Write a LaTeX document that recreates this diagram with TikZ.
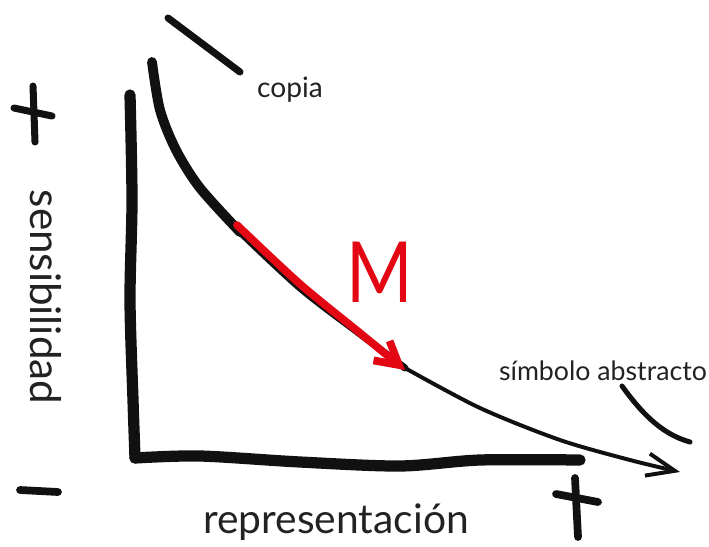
\documentclass[tikz,border=0pt]{standalone}
\usepackage{fontspec}
\setmainfont{Lato}
\usetikzlibrary{arrows.meta}

\definecolor{brush}{HTML}{111111}
\definecolor{marker}{HTML}{E30613}
\definecolor{ink}{HTML}{222222}

\tikzset{
  brush/.style={draw=brush, line cap=round, line join=round},
  label/.style={text=ink, inner sep=0pt},
}

\begin{document}
\begin{tikzpicture}[x=0.025cm, y=-0.025cm]
        \useasboundingbox (0,0) rectangle (709,546);
        % ejes
        \draw[brush, line width=8pt] plot[smooth] coordinates {(130,95) (132,200) (130,300) (133,400) (135,458)};
        \draw[brush, line width=8pt] plot[smooth] coordinates {(135,458) (200,456) (300,462) (400,466) (480,460) (580,460)};
        % curva
        \draw[brush, line width=7pt] plot[smooth] coordinates {(152,62) (160,110) (176,150) (200,188) (240,232)};
        \draw[brush, line width=5pt] plot[smooth] coordinates {(240,232) (300,288) (360,334) (405,368)};
        \draw[brush, line width=2.8pt, -{Straight Barb[length=20pt, width=16pt]}] plot[smooth] coordinates {(405,368) (480,408) (560,440) (630,460) (680,472)};
        % flecha M
        \draw[draw=marker, line width=5.5pt, line cap=round, -{Straight Barb[length=16pt, width=18pt]}] plot[smooth] coordinates {(237,225) (300,284) (360,333) (405,370)};
        \node[text=marker, font=\fontsize{60}{60}\selectfont, xscale=0.85] (M) at (380,272) {M};
        % trazos sueltos
        \draw[brush, line width=5pt] (168,18) -- (240,72);
        \draw[brush, line width=3.6pt] (622,386) .. controls (645,418) and (665,435) .. (690,442);
        % signos
        \draw[brush, line width=5pt] (33,86) -- (35,142);
        \draw[brush, line width=5pt] (14,108) -- (52,116);
        \draw[brush, line width=5.5pt] (20,490) -- (58,492);
        \draw[brush, line width=5.5pt] (575,478) -- (578,537);
        \draw[brush, line width=5.5pt] (556,494) -- (598,502);
        % textos
        \node[label, font=\fontsize{20}{24}\selectfont] (copia) at (290,90) {copia};
        \node[label, font=\fontsize{19}{22}\selectfont] (simbolo) at (603,371) {símbolo abstracto};
        \node[label, font=\fontsize{30}{34}\selectfont, rotate=-90] (sensib) at (46,297) {sensibilidad};
        \node[label, font=\fontsize{29}{34}\selectfont] (repres) at (336,522) {representación};
    \end{tikzpicture}
\end{document}
